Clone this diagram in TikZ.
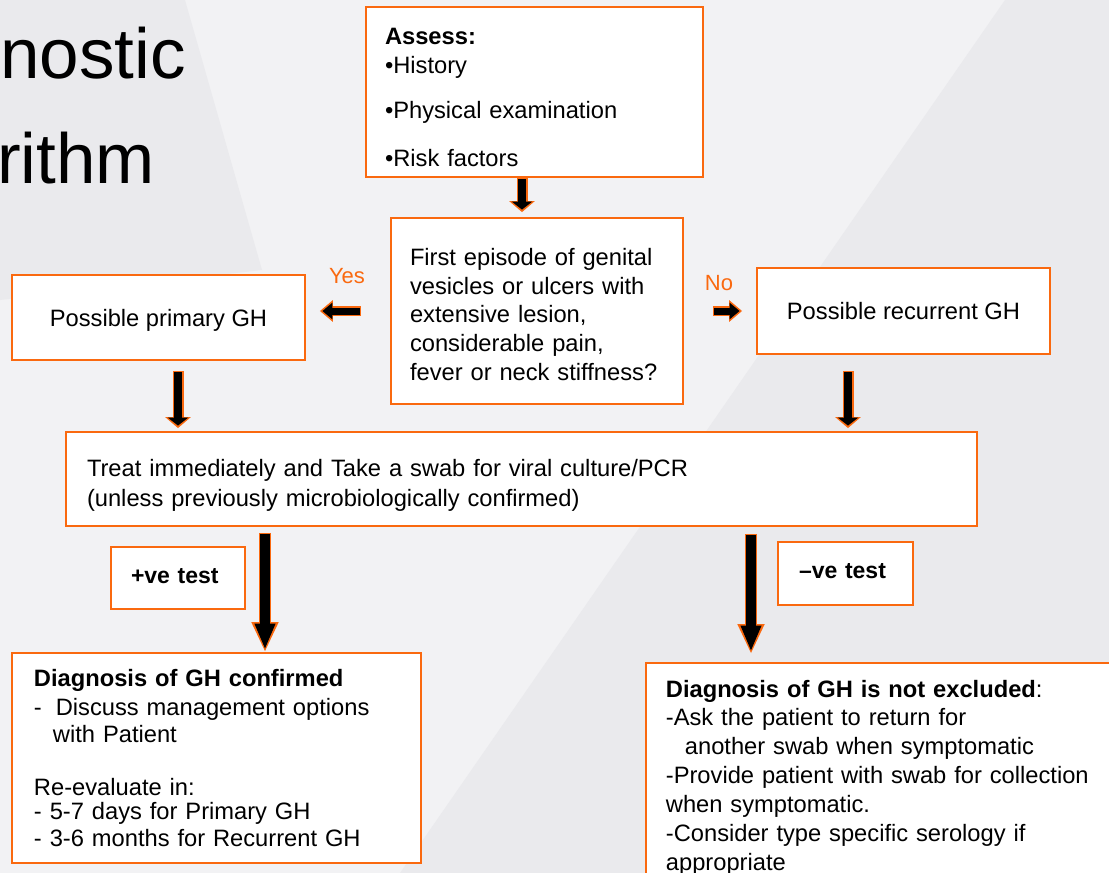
\documentclass[tikz,border=0pt]{standalone}
\usepackage{fontspec}
\setmainfont{Liberation Sans}
\usetikzlibrary{arrows.meta}

\definecolor{laranja}{RGB}{250,105,15}
\definecolor{fundo}{RGB}{242,242,244}
\definecolor{fundoesc}{RGB}{234,234,237}

\begin{document}
\begin{tikzpicture}[x=1pt, y=-1pt,
    texto/.style={font=\fontsize{23.7}{28.6}\selectfont},
    caixa/.style={texto, draw=laranja, line width=1.8pt, fill=white, inner ysep=0pt},
    rotulo/.style={font=\fontsize{22}{26}\selectfont, text=laranja, inner sep=0pt},
    % setas pretas com contorno laranja: {inicio}{fim}
    setap/.style 2 args={line width=8pt, black, shorten <=#1+1.5pt, shorten >=#2+2.5pt,
        -{Triangle[width=20pt,length=8pt]},
        preaction={draw=laranja, line width=11pt, shorten <=#1, shorten >=#2,
        -{Triangle[width=25pt,length=11pt]}}},
    setah/.style 2 args={line width=7pt, black, shorten <=#1+1.5pt, shorten >=#2+2.5pt,
        -{Triangle[width=16pt,length=10pt]},
        preaction={draw=laranja, line width=10pt, shorten <=#1, shorten >=#2,
        -{Triangle[width=21pt,length=13pt]}}},
    setag/.style 2 args={line width=9.5pt, black, shorten <=#1+1.5pt, shorten >=#2+2.5pt,
        -{Triangle[width=19pt,length=26pt]},
        preaction={draw=laranja, line width=12.5pt, shorten <=#1, shorten >=#2,
        -{Triangle[width=25pt,length=30pt]}}}
  ]
  % Fundo
  \clip (0,0) rectangle (1109,873);
  \fill[fundo] (0,0) rectangle (1109,873);
  \fill[fundoesc] (0,0) -- (185,0) -- (262,270) -- (0,300) -- cycle;
  \fill[fundoesc] (1005,0) -- (1109,0) -- (1109,873) -- (400,873) -- cycle;

  % Titulo (cortado)
  \node[anchor=base west, inner sep=0pt, font=\fontsize{71}{71}\selectfont] (titulo1) at (0,78) {nostic};
  \node[anchor=base west, inner sep=0pt, font=\fontsize{71}{71}\selectfont] (titulo2) at (-3,183) {rithm};

  % Caixas
  \node[caixa, text width=299pt, inner xsep=19pt, minimum height=170pt, align=left] (assess) at (534.5,92)
    {\rule{0pt}{27pt}\textbf{Assess:}\\ •History\\[17pt] •Physical examination\\[19pt] •Risk factors};
  \node[caixa, text width=254pt, inner xsep=19pt, minimum height=186pt, align=left] (question) at (537,311)
    {\rule{0pt}{24pt}First episode of genital\\ vesicles or ulcers with\\ extensive lesion,\\ considerable pain,\\ fever or neck stiffness?};
  \node[caixa, minimum width=293pt, minimum height=85pt, text depth=-2pt] (primary) at (158.5,317.5) {Possible primary GH};
  \node[caixa, minimum width=293pt, minimum height=86pt] (recurrent) at (903.5,311) {Possible recurrent GH};
  \node[caixa, text width=869pt, inner xsep=21pt, minimum height=94pt, align=left] (treat) at (521.5,479)
    {\rule{0pt}{29.5pt}Treat immediately and Take a swab for viral culture/PCR\\[1.5pt] (unless previously microbiologically confirmed)};
  \node[caixa, text width=94pt, inner xsep=20pt, minimum height=62pt, align=left, font=\fontsize{23}{28.5}\bfseries] (positivo) at (178,578) {+ve test\vphantom{g}};
  \node[caixa, text width=93pt, inner xsep=21pt, minimum height=63pt, align=left, font=\fontsize{23}{28.5}\bfseries] (negativo) at (845.5,573.5) {–ve test\vphantom{g}};
  \node[caixa, text width=365pt, inner xsep=22pt, minimum height=210pt, align=left] (confirmed) at (216.5,758)
    {\textbf{Diagnosis of GH confirmed}\\
     -\hspace{14pt}Discuss management options\\[-1pt]
     \hspace*{19pt}with Patient\\[24pt]
     Re-evaluate in:\\[-4pt]
     - 5-7 days for Primary GH\\[-2pt]
     - 3-6 months for Recurrent GH};
  \node[caixa, anchor=north west, text width=470pt, inner xsep=20pt, inner ysep=17pt, align=left] (excluded) at (645,662)
    {\textbf{Diagnosis of GH is not excluded}:\\
     -Ask the patient to return for\\
     \hspace*{19pt}another swab when symptomatic\\[0.5pt]
     -Provide patient with swab for collection\\[0.5pt]
     when symptomatic.\\[0.5pt]
     -Consider type specific serology if\\[0.5pt]
     appropriate\\[20pt]\strut};

  % Sim / Nao
  \node[rotulo] (sim) at (347,276) {Yes};
  \node[rotulo] (nao) at (719,283) {No};

  % Setas
  \coordinate (colneg) at (751,0);
  \draw[setap={0pt}{5pt}] ([xshift=-12.5pt]assess.south) -- ([xshift=-12.5pt]assess.south |- question.north);
  \draw[setah={29pt}{14pt}] (question.west) -- (question.west -| primary.east);
  \draw[setah={29pt}{14pt}] (question.east) -- (question.east -| recurrent.west);
  \draw[setap={10pt}{3pt}] ([xshift=19.5pt]primary.south) -- ([xshift=19.5pt]primary.south |- treat.north);
  \draw[setap={16pt}{3pt}] ([xshift=-55.5pt]recurrent.south) -- ([xshift=-55.5pt]recurrent.south |- treat.north);
  \draw[setag={6pt}{0pt}] ([xshift=48.5pt]confirmed.north |- treat.south) -- ([xshift=48.5pt]confirmed.north);
  \draw[setag={7pt}{8pt}] (treat.south -| colneg) -- (excluded.north -| colneg);
\end{tikzpicture}
\end{document}
